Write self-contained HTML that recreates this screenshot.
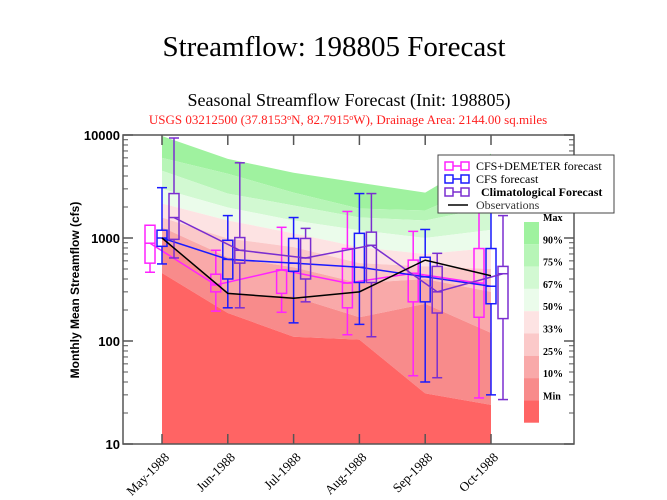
<!DOCTYPE html>
<html><head><meta charset="utf-8">
<style>
body{margin:0;background:#fff;width:667px;height:500px;overflow:hidden}
svg{display:block}
text{font-family:"Liberation Serif",serif}
</style></head>
<body>
<svg id="chart" width="667" height="500" viewBox="0 0 667 500" xmlns="http://www.w3.org/2000/svg">
<text x="334" y="56" text-anchor="middle" font-size="29">Streamflow: 198805 Forecast</text>
<text x="349" y="106" text-anchor="middle" font-size="18">Seasonal Streamflow Forecast (Init: 198805)</text>
<text x="348" y="124" text-anchor="middle" font-size="13" fill="#ff2020">USGS 03212500 (37.8153<tspan dy="-4" font-size="8">o</tspan><tspan dy="4">N, 82.7915</tspan><tspan dy="-4" font-size="8">o</tspan><tspan dy="4">W), Drainage Area: 2144.00 sq.miles</tspan></text>
<text transform="translate(79,290) rotate(-90)" text-anchor="middle" font-size="12" font-weight="bold" style="font-family:'Liberation Sans',sans-serif">Monthly Mean Streamflow (cfs)</text>
<g id="bands"></g>
<g id="series"></g>
<g id="axes"></g>
<g id="legend"></g>
</svg>
<script>
const months=["May-1988","Jun-1988","Jul-1988","Aug-1988","Sep-1988","Oct-1988"];
const climMax=[9780,5870,4300,3440,2760,6600];
const clim90=[6000,4210,2760,1930,1850,3500];
const clim75=[4500,2700,2070,1580,1480,2000];
const clim67=[3000,1980,1480,1190,1000,1200];
const clim50=[2160,1480,1110,815,700,800];
const clim33=[1580,990,815,570,530,500];
const clim25=[1270,650,520,365,400,300];
const clim10=[1010,290,270,170,230,120];
const climMin=[457,187,110,103,31,24];
const demLow=[465,195,190,115,46,28];
const demQ1=[570,300,290,210,240,170];
const demMed=[890,350,490,365,455,365];
const demQ3=[1330,445,490,790,610,790];
const demHigh=[1330,760,1270,1810,1160,2700];
const cfsLow=[560,210,150,145,40,30];
const cfsQ1=[830,400,475,370,240,230];
const cfsMed=[1000,620,570,520,420,340];
const cfsQ3=[1190,950,990,1110,650,790];
const cfsHigh=[3080,1650,1580,2700,1210,2700];
const cliLow=[640,210,240,110,44,27];
const cliQ1=[970,570,400,370,187,165];
const cliMed=[1580,760,640,850,300,450];
const cliQ3=[2700,1010,990,1140,530,530];
const cliHigh=[9350,5370,1240,2700,710,1650];
const obs=[1000,290,260,300,610,430];
const yTicks=[10,100,1000,10000];
const bandLabels=["Max","90%","75%","67%","50%","33%","25%","10%","Min"];

const NS="http://www.w3.org/2000/svg";
const L=123,R=574,T=135,B=444;
const x=i=>162+i*65.8;
const y=v=>B-(Math.log10(v)-1)/3*(B-T);
function el(tag,attrs,parent){const e=document.createElementNS(NS,tag);for(const k in attrs)e.setAttribute(k,attrs[k]);parent.appendChild(e);return e;}
const gB=document.getElementById('bands'),gS=document.getElementById('series'),gA=document.getElementById('axes'),gL=document.getElementById('legend');

const levels=[climMax,clim90,clim75,clim67,clim50,clim33,clim25,clim10,climMin];
const cols=["#9ff29f","#b7f5b7","#d2f9d2","#ebfceb","#fde3e3","#fbc9c9","#f9a9a9","#f88b8b","#ff6464"];
for(let b=0;b<9;b++){
  const up=levels[b],lo=b<8?levels[b+1]:null;
  let pts=months.map((m,i)=>x(i)+','+y(up[i]));
  if(lo){for(let i=months.length-1;i>=0;i--)pts.push(x(i)+','+y(lo[i]));}
  else{pts.push(x(months.length-1)+','+B,x(0)+','+B);}
  const p=el('polygon',{points:pts.join(' '),fill:cols[b]},gB);
  
  
}

function boxSeries(name,color,off,lo,q1,med,q3,hi){
  const g=el('g',{},gS);
  
  
  const ln=el('polyline',{points:months.map((m,i)=>(x(i)+off)+','+y(med[i])).join(' '),fill:'none',stroke:color,'stroke-width':1.5},g);
  
  
  months.forEach((m,i)=>{
    const cx=x(i)+off,w=10;
    const bx=el('g',{stroke:color,'stroke-width':1.5,fill:'none'},g);
    
    
    el('line',{x1:cx,x2:cx,y1:y(hi[i]),y2:y(q3[i])},bx);
    el('line',{x1:cx,x2:cx,y1:y(q1[i]),y2:y(lo[i])},bx);
    el('line',{x1:cx-5,x2:cx+5,y1:y(hi[i]),y2:y(hi[i])},bx);
    el('line',{x1:cx-5,x2:cx+5,y1:y(lo[i]),y2:y(lo[i])},bx);
    el('rect',{x:cx-w/2,y:y(q3[i]),width:w,height:Math.max(1,y(q1[i])-y(q3[i]))},bx);
    el('line',{x1:cx-w/2,x2:cx+w/2,y1:y(med[i]),y2:y(med[i])},bx);
  });
}
boxSeries('cfs-demeter','#ff22ff',-12,demLow,demQ1,demMed,demQ3,demHigh);
boxSeries('cfs','#1a1aff',0,cfsLow,cfsQ1,cfsMed,cfsQ3,cfsHigh);
boxSeries('climatological','#7a2ed0',12,cliLow,cliQ1,cliMed,cliQ3,cliHigh);
const ob=el('polyline',{points:months.map((m,i)=>x(i)+','+y(obs[i])).join(' '),fill:'none',stroke:'#000','stroke-width':1.5},gS);



// axes
const fr=el('rect',{x:L,y:T,width:R-L,height:B-T,fill:'none',stroke:'#555','stroke-width':1.5},gA);


for(let d=0;d<3;d++){for(let k=2;k<10;k++){const v=Math.pow(10,d+1)*k,yy=y(v);
  el('line',{x1:L,x2:L+5,y1:yy,y2:yy,stroke:'#555'},gA);el('line',{x1:R-5,x2:R,y1:yy,y2:yy,stroke:'#555'},gA);}}
yTicks.forEach(v=>{const yy=y(v);
  el('line',{x1:L,x2:L+10,y1:yy,y2:yy,stroke:'#555','stroke-width':1.5},gA);
  el('line',{x1:R-10,x2:R,y1:yy,y2:yy,stroke:'#555','stroke-width':1.5},gA);
  const t=el('text',{x:L-3,y:yy+5,'text-anchor':'end','font-size':13,'font-weight':'bold',style:"font-family:'Liberation Sans',sans-serif"},gA);
  t.textContent=v;
  
  
});
months.forEach((m,i)=>{const xx=x(i);
  el('line',{x1:xx,x2:xx,y1:B,y2:B-10,stroke:'#555','stroke-width':1.5},gA);
  el('line',{x1:xx,x2:xx,y1:T,y2:T+10,stroke:'#555','stroke-width':1.5},gA);
  const t=el('text',{transform:`translate(${xx+8},${B+14}) rotate(-45)`,'text-anchor':'end','font-size':13},gA);
  t.textContent=m;
  
  
});

// legend
const lb=el('rect',{x:438,y:155,width:176,height:58,fill:'#fff',stroke:'#444','stroke-width':1},gL);


const legItems=[["CFS+DEMETER forecast","#ff22ff",false],["CFS forecast","#1a1aff",false],["Climatological Forecast","#7a2ed0",true],["Observations","#000",false]];
legItems.forEach((it,k)=>{const yy=166+k*13;
  const g=el('g',{},gL);
  
  
  if(k<3){el('rect',{x:445,y:yy-4,width:8,height:8,fill:'none',stroke:it[1],'stroke-width':1.5},g);
    el('rect',{x:461,y:yy-4,width:8,height:8,fill:'none',stroke:it[1],'stroke-width':1.5},g);
    el('line',{x1:453,x2:461,y1:yy,y2:yy,stroke:it[1],'stroke-width':1.5},g);}
  else el('line',{x1:448,x2:468,y1:yy,y2:yy,stroke:'#000','stroke-width':1.5},g);
  const t=el('text',{x:it[2]?481:476,y:yy+4,'font-size':12,'font-weight':it[2]?'bold':'normal',fill:k==3?'#333':'#000'},g);
  t.textContent=it[0];
});
for(let b=0;b<9;b++){
  const r=el('rect',{x:524,y:222+b*22.3,width:15,height:22.3,fill:cols[b]},gL);
  
  
  const t=el('text',{x:543,y:221+b*22.3,'font-size':10,'font-weight':'bold'},gL);
  t.textContent=bandLabels[b];
  
  
}
</script>
</body></html>
